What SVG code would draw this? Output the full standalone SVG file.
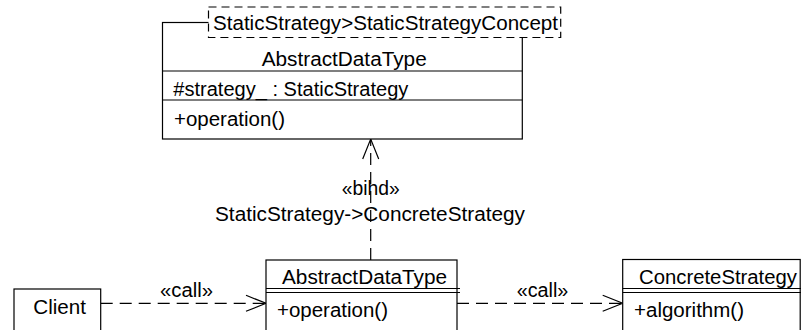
<svg xmlns="http://www.w3.org/2000/svg" width="801" height="330" viewBox="0 0 801 330">
<style>
.t{font-family:"Liberation Sans",Arial,sans-serif;font-size:19.5px;fill:#000}
.box{fill:#fff;stroke:#000;stroke-width:1.2}
.ln{fill:none;stroke:#000;stroke-width:1.2}
.dash{fill:none;stroke:#000;stroke-width:1.2;stroke-dasharray:12 7}
</style>
<defs>
<marker id="open" viewBox="-22 -10 24 20" refX="0" refY="0" markerWidth="24" markerHeight="20" markerUnits="userSpaceOnUse" orient="auto">
<path d="M-20,-8 L0,0 L-20,8" fill="none" stroke="#000" stroke-width="1.2"/>
</marker>
</defs>
<g id="connectors">
<line class="dash" x1="100.7" y1="303.3" x2="266" y2="303.3" marker-end="url(#open)"/>
<line class="dash" x1="457" y1="303.3" x2="622.7" y2="303.3" marker-end="url(#open)"/>
<line class="dash" x1="370.7" y1="260" x2="370.7" y2="139" marker-end="url(#open)"/>
<text class="t" x="160" y="297.3" textLength="53" lengthAdjust="spacingAndGlyphs">«call»</text>
<text class="t" x="516.7" y="297.3" textLength="51.6" lengthAdjust="spacingAndGlyphs">«call»</text>
<text class="t" x="341.7" y="195" textLength="58" lengthAdjust="spacingAndGlyphs">«bihd»</text>
<text class="t" x="215" y="220.7" textLength="310" lengthAdjust="spacingAndGlyphs">StaticStrategy-&gt;ConcreteStrategy</text>
</g>
<g id="AbstractDataTypeTemplate">
<rect class="box" x="162.5" y="22.5" width="359.8" height="116.5"/>
<line class="ln" x1="162.5" y1="71" x2="522.3" y2="71"/>
<line class="ln" x1="162.5" y1="100" x2="522.3" y2="100"/>
<rect x="208.5" y="7" width="352.2" height="30.5" fill="#fff" stroke="#000" stroke-width="1.2" stroke-dasharray="8 5"/>
<text class="t" x="213" y="30" textLength="345" lengthAdjust="spacingAndGlyphs">StaticStrategy&gt;StaticStrategyConcept</text>
<text class="t" x="261.7" y="66" textLength="165" lengthAdjust="spacingAndGlyphs">AbstractDataType</text>
<text class="t" x="173.3" y="95.5" textLength="235" lengthAdjust="spacingAndGlyphs">#strategy_ : StaticStrategy</text>
<text class="t" x="174" y="126" textLength="111" lengthAdjust="spacingAndGlyphs">+operation()</text>
</g>
<g id="Client">
<rect class="box" x="14" y="289" width="86.7" height="60"/>
<text class="t" x="33.3" y="314.3" textLength="52.7" lengthAdjust="spacingAndGlyphs">Client</text>
</g>
<g id="AbstractDataType">
<rect class="box" x="266" y="260" width="191" height="100"/>
<line class="ln" x1="266" y1="288.5" x2="460" y2="288.5"/>
<line class="ln" x1="266" y1="292.5" x2="460" y2="292.5"/>
<text class="t" x="282" y="284.3" textLength="165" lengthAdjust="spacingAndGlyphs">AbstractDataType</text>
<text class="t" x="277" y="317" textLength="111" lengthAdjust="spacingAndGlyphs">+operation()</text>
</g>
<g id="ConcreteStrategy">
<rect class="box" x="622.7" y="259.5" width="177.5" height="100"/>
<line class="ln" x1="622.7" y1="288.5" x2="801" y2="288.5"/>
<line class="ln" x1="622.7" y1="292.5" x2="801" y2="292.5"/>
<text class="t" x="639" y="284.3" textLength="158" lengthAdjust="spacingAndGlyphs">ConcreteStrategy</text>
<text class="t" x="634" y="317" textLength="110" lengthAdjust="spacingAndGlyphs">+algorithm()</text>
</g>
</svg>
